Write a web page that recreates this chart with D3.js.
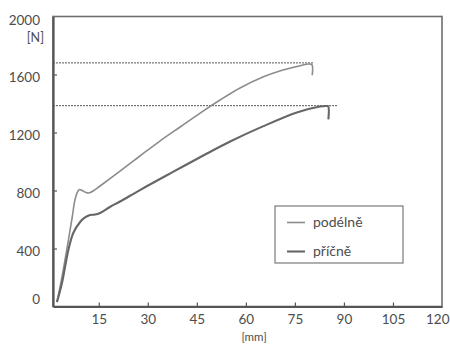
<!DOCTYPE html>
<html>
<head>
<meta charset="utf-8">
<script src="https://cdn.jsdelivr.net/npm/d3@7"></script>
<style>
  body { margin: 0; background: #fff; }
  text { font-family: Lato, "Open Sans", sans-serif; fill: #4d4d4d; }
</style>
</head>
<body>
<script>
// Force vs. elongation: [mm, N]
const podelne = [
  [2.2, 30], [3.4, 162], [5.2, 390], [6.9, 619], [7.7, 734], [8.5, 790],
  [9.05, 807], [9.9, 800], [11.1, 786], [12.0, 783], [13.5, 800], [15.4, 831],
  [21.5, 934], [27.6, 1038], [33.7, 1141], [39.9, 1238], [46.0, 1334],
  [52.1, 1424], [58.2, 1507], [65.2, 1583], [70.4, 1624], [75.6, 1655],
  [79.0, 1672], [80.2, 1668], [80.3, 1595]
];
const pricne = [
  [2.2, 30], [3.75, 162], [5.7, 390], [7.2, 507], [9.3, 583], [10.8, 614],
  [12.3, 631], [13.85, 634], [15.4, 645], [18.4, 686], [21.5, 724],
  [27.6, 803], [37.7, 928], [48.1, 1055], [55.2, 1138], [65.2, 1242],
  [75.6, 1338], [82.7, 1379], [84.7, 1383], [85.2, 1380], [85.25, 1290]
];
// dashed max-force lines: value and where they stop
const maxForce = [1680, 1385];
const maxEnd = [80.8, 87.9];

const xTicks = [15, 30, 45, 60, 75, 90, 105, 120];
const yTicks = [0, 400, 800, 1200, 1600, 2000];
const seriesNames = ["podélně", "příčně"];

const width = 450;
const height = 344;
const margin = { top: 16.5, right: 8, bottom: 37.5, left: 53 };

const xScale = d3.scaleLinear().domain([1, 120]).range([margin.left, width - margin.right]);
const yScale = d3.scaleLinear().domain([0, 2000]).range([height - margin.bottom, margin.top]);

const svg = d3.select("body").append("svg")
  .attr("width", width)
  .attr("height", height);

const x0 = margin.left, x1 = width - margin.right;
const y0 = height - margin.bottom, y1 = margin.top;

// frame: top and right thinner
svg.append("rect")
  .attr("x", x0).attr("y", y1)
  .attr("width", x1 - x0).attr("height", y0 - y1)
  .attr("fill", "none")
  .attr("stroke", "#6e6e6e")
  .attr("stroke-width", 1.6);

// x axis, ticks point inwards
const xAxis = d3.axisBottom(xScale)
  .tickValues(xTicks)
  .tickFormat(d3.format("d"))
  .tickSize(-4)
  .tickSizeOuter(0)
  .tickPadding(8);
svg.append("g")
  .attr("transform", `translate(0,${y0})`)
  .call(xAxis)
  .call(g => g.select(".domain").attr("stroke", "#555").attr("stroke-width", 2.2))
  .call(g => g.selectAll(".tick line").attr("stroke", "#555").attr("stroke-width", 1.2))
  .call(g => g.selectAll(".tick").filter(d => d === 120).select("line").remove())
  .call(g => g.selectAll(".tick").filter(d => d === 120).select("text")
    .attr("text-anchor", "end").attr("x", width - 1 - xScale(120)))
  .call(g => g.selectAll(".tick text").attr("font-size", 13.5).attr("fill", "#4d4d4d"));

svg.append("text")
  .attr("x", xScale(62.5))
  .attr("y", 341)
  .attr("text-anchor", "middle")
  .attr("font-size", 11.5)
  .text("[mm]");

// y axis
const yAxis = d3.axisLeft(yScale)
  .tickValues(yTicks)
  .tickFormat(d3.format("d"))
  .tickSize(-4)
  .tickSizeOuter(0)
  .tickPadding(13);
svg.append("g")
  .attr("transform", `translate(${x0},0)`)
  .call(yAxis)
  .call(g => g.select(".domain").attr("stroke", "#555").attr("stroke-width", 2.2))
  .call(g => g.selectAll(".tick line").attr("stroke", "#555").attr("stroke-width", 1.2))
  .call(g => g.selectAll(".tick").filter(d => d === 0 || d === 2000).select("line").remove())
  .call(g => g.selectAll(".tick text")
    .attr("font-size", 13.5)
    .attr("fill", "#4d4d4d")
    .attr("dy", d => d === 0 ? "-0.25em" : d === 2000 ? "0.6em" : "0.55em"));

svg.append("text")
  .attr("x", 44)
  .attr("y", 42)
  .attr("text-anchor", "end")
  .attr("font-size", 12.5)
  .text("[N]");

// dashed max lines
svg.append("g")
  .selectAll("line")
  .data(maxForce)
  .join("line")
  .attr("x1", x0)
  .attr("x2", (d, i) => xScale(maxEnd[i]))
  .attr("y1", d => yScale(d))
  .attr("y2", d => yScale(d))
  .attr("stroke", "#555")
  .attr("stroke-width", 1)
  .attr("stroke-dasharray", "2,1");

const line = d3.line()
  .x(d => xScale(d[0]))
  .y(d => yScale(d[1]))
  .curve(d3.curveCatmullRom.alpha(0.5));

const styles = [
  { color: "#8c8c8c", w: 1.6 },
  { color: "#666", w: 2.1 }
];

[podelne, pricne].forEach((s, i) => {
  svg.append("path")
    .attr("d", line(s))
    .attr("fill", "none")
    .attr("stroke", styles[i].color)
    .attr("stroke-width", styles[i].w)
    .attr("stroke-linejoin", "round");
});

// legend
const legend = svg.append("g").attr("transform", "translate(275,206)");
legend.append("rect")
  .attr("width", 128).attr("height", 57)
  .attr("fill", "#fff")
  .attr("stroke", "#7a7a7a")
  .attr("stroke-width", 1.2);

const item = legend.selectAll("g.item")
  .data(seriesNames)
  .join("g")
  .attr("class", "item")
  .attr("transform", (d, i) => `translate(0,${16.5 + i * 29})`);
item.append("line")
  .attr("x1", 12).attr("x2", 30)
  .attr("stroke", (d, i) => styles[i].color)
  .attr("stroke-width", (d, i) => styles[i].w);
item.append("text")
  .attr("x", 38)
  .attr("dy", "0.32em")
  .attr("font-size", 14)
  .text(d => d);
</script>
</body>
</html>
